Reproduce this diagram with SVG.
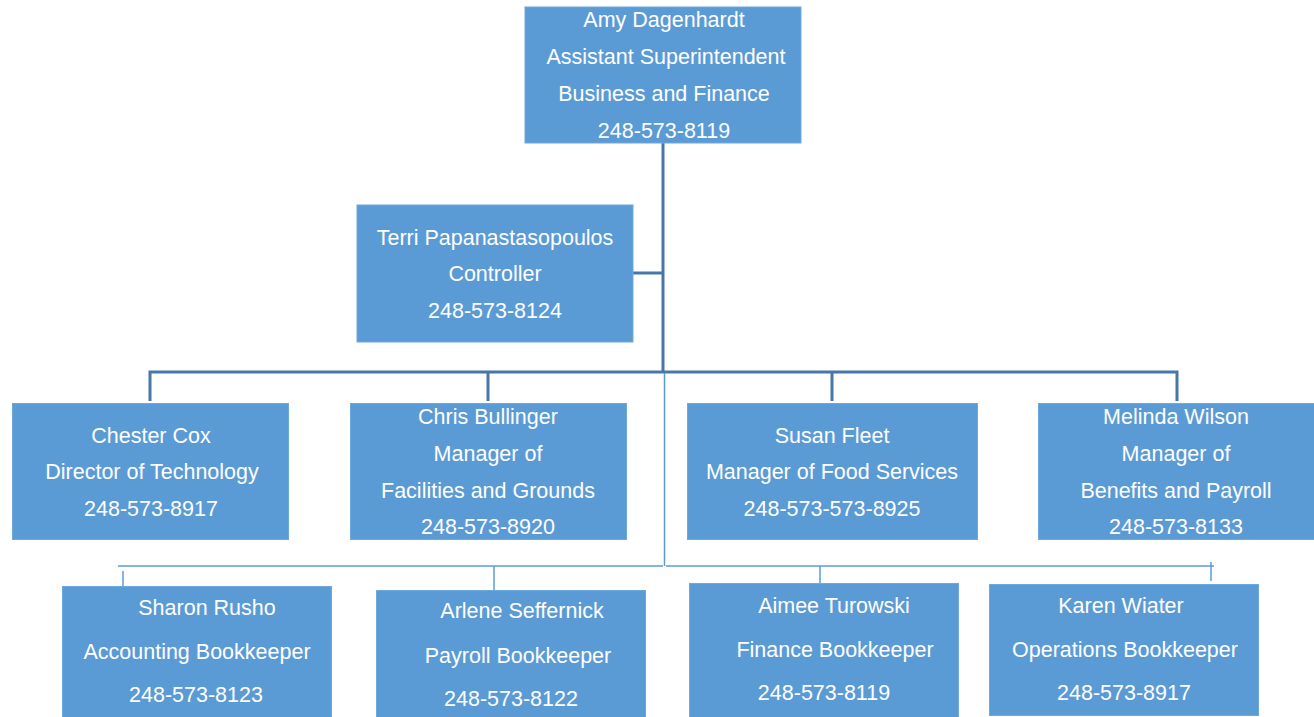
<svg xmlns="http://www.w3.org/2000/svg" width="1314" height="717" viewBox="0 0 1314 717">
<style>
.box{fill:#5b9bd5;stroke:#6fa8dc;stroke-width:1}
.t{font-family:"Liberation Sans",Arial,sans-serif;font-size:21.5px;fill:#ffffff;text-anchor:middle}
.thick{stroke:#4677a8;stroke-width:3;fill:none}
.thin{stroke:#5b9bd5;stroke-width:1.5;fill:none}
</style>
<rect width="1314" height="717" fill="#ffffff"/>
<g id="connectors">
  <line class="thick" x1="663" y1="143" x2="663" y2="373"/>
  <line class="thick" x1="633" y1="273" x2="663" y2="273"/>
  <polyline class="thick" points="150,401 150,372 1177,372 1177,401"/>
  <line class="thick" x1="488" y1="372" x2="488" y2="401"/>
  <line class="thick" x1="832" y1="372" x2="832" y2="401"/>
  <line class="thin" x1="664.5" y1="373" x2="664.5" y2="566"/>
  <line class="thin" x1="118" y1="566" x2="663" y2="566"/>
  <line class="thin" x1="666" y1="566" x2="1214" y2="566"/>
  <line class="thin" x1="123" y1="571" x2="123" y2="586"/>
  <line class="thin" x1="494" y1="566" x2="494" y2="590"/>
  <line class="thin" x1="820" y1="566" x2="820" y2="583"/>
  <line class="thin" x1="1211" y1="562" x2="1211" y2="581"/>
</g>
<g id="amy">
  <rect class="box" x="525" y="7" width="276" height="136"/>
  <text class="t" x="664" y="27">Amy Dagenhardt</text>
  <text class="t" x="666" y="64">Assistant Superintendent</text>
  <text class="t" x="664" y="101">Business and Finance</text>
  <text class="t" x="664" y="138">248-573-8119</text>
</g>
<g id="terri">
  <rect class="box" x="357" y="205" width="276" height="137"/>
  <text class="t" x="495" y="245">Terri Papanastasopoulos</text>
  <text class="t" x="495" y="281">Controller</text>
  <text class="t" x="495" y="318">248-573-8124</text>
</g>
<g id="chester">
  <rect class="box" x="12.5" y="403.5" width="276" height="136"/>
  <text class="t" x="151" y="443">Chester Cox</text>
  <text class="t" x="152" y="479">Director of Technology</text>
  <text class="t" x="151" y="516">248-573-8917</text>
</g>
<g id="chris">
  <rect class="box" x="350.5" y="403.5" width="276" height="136"/>
  <text class="t" x="488" y="424">Chris Bullinger</text>
  <text class="t" x="488" y="461">Manager of</text>
  <text class="t" x="488" y="498">Facilities and Grounds</text>
  <text class="t" x="488" y="534">248-573-8920</text>
</g>
<g id="susan">
  <rect class="box" x="687.5" y="403.5" width="290" height="136"/>
  <text class="t" x="832" y="443">Susan Fleet</text>
  <text class="t" x="832" y="479">Manager of Food Services</text>
  <text class="t" x="832" y="516">248-573-573-8925</text>
</g>
<g id="melinda">
  <rect class="box" x="1038.5" y="403.5" width="276" height="136"/>
  <text class="t" x="1176" y="424">Melinda Wilson</text>
  <text class="t" x="1176" y="461">Manager of</text>
  <text class="t" x="1176" y="498">Benefits and Payroll</text>
  <text class="t" x="1176" y="534">248-573-8133</text>
</g>
<g id="sharon">
  <rect class="box" x="62.5" y="586.5" width="269" height="131"/>
  <text class="t" x="207" y="615">Sharon Rusho</text>
  <text class="t" x="197" y="659">Accounting Bookkeeper</text>
  <text class="t" x="196" y="702">248-573-8123</text>
</g>
<g id="arlene">
  <rect class="box" x="376.5" y="590.5" width="269" height="127"/>
  <text class="t" x="522" y="618">Arlene Seffernick</text>
  <text class="t" x="518" y="663">Payroll Bookkeeper</text>
  <text class="t" x="511" y="706">248-573-8122</text>
</g>
<g id="aimee">
  <rect class="box" x="689.5" y="583.5" width="269" height="134"/>
  <text class="t" x="834" y="613">Aimee Turowski</text>
  <text class="t" x="835" y="657">Finance Bookkeeper</text>
  <text class="t" x="824" y="700">248-573-8119</text>
</g>
<g id="karen">
  <rect class="box" x="989.5" y="584.5" width="269" height="131"/>
  <text class="t" x="1121" y="613">Karen Wiater</text>
  <text class="t" x="1125" y="657">Operations Bookkeeper</text>
  <text class="t" x="1124" y="700">248-573-8917</text>
</g>
</svg>
